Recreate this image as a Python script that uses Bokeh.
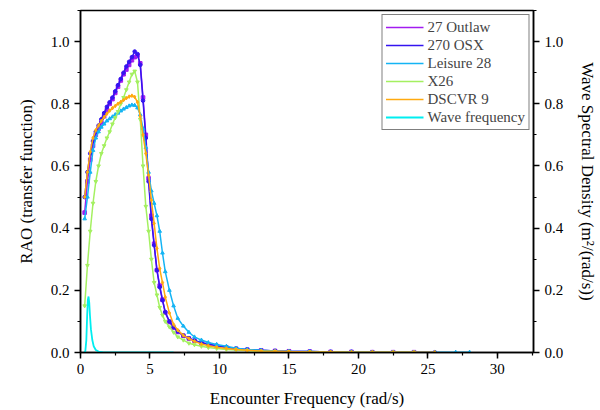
from bokeh.plotting import figure
from bokeh.models import Range1d, LinearAxis, Legend, LegendItem, PrintfTickFormatter
from bokeh.embed import file_html
from bokeh.resources import INLINE

# Encounter frequency grid (rad/s)
freq = [0.3, 0.5, 0.7, 0.9, 1.1, 1.3, 1.5, 1.7, 1.9, 2.1, 2.3, 2.5, 2.7, 2.9, 3.1, 3.3, 3.5, 3.7, 3.9, 4.1,
        4.3, 4.5, 4.7, 4.9, 5.1, 5.3, 5.5, 5.7, 5.9, 6.1, 6.4, 6.7, 7.0, 7.4, 7.8, 8.2, 8.7, 9.2, 9.8, 10.5,
        11.2, 12.0, 13.0, 14.0, 15.0, 16.5, 18.0, 19.5, 21.0, 22.5, 24.0, 25.5, 27.0, 28.0]

rao_outlaw = [0.45, 0.55, 0.62, 0.665, 0.70, 0.72, 0.74, 0.76, 0.78, 0.80, 0.815, 0.835, 0.855, 0.875, 0.895,
              0.91, 0.925, 0.94, 0.95, 0.955, 0.93, 0.82, 0.70, 0.56, 0.44, 0.35, 0.265, 0.215, 0.17, 0.128,
              0.098, 0.08, 0.066, 0.054, 0.045, 0.038, 0.031, 0.026, 0.021, 0.016, 0.012, 0.009, 0.007,
              0.005, 0.004, 0.003, 0.002, 0.002, 0.001, 0.001, 0.001]
rao_osx = [0.50, 0.58, 0.64, 0.68, 0.71, 0.73, 0.75, 0.77, 0.79, 0.805, 0.82, 0.84, 0.86, 0.88, 0.90,
           0.92, 0.935, 0.95, 0.968, 0.96, 0.925, 0.81, 0.69, 0.55, 0.43, 0.345, 0.265, 0.21, 0.168, 0.13,
           0.10, 0.082, 0.068, 0.055, 0.046, 0.039, 0.032, 0.027, 0.022, 0.017, 0.013, 0.010, 0.007,
           0.005, 0.004, 0.003, 0.002, 0.002, 0.001, 0.001, 0.001, 0.001]
rao_leisure = [0.43, 0.50, 0.58, 0.65, 0.69, 0.71, 0.725, 0.735, 0.745, 0.752, 0.758, 0.765, 0.77, 0.777,
               0.783, 0.788, 0.793, 0.796, 0.795, 0.787, 0.765, 0.72, 0.66, 0.58, 0.52, 0.48, 0.44, 0.39,
               0.32, 0.26, 0.20, 0.15, 0.11, 0.085, 0.065, 0.05, 0.04, 0.032, 0.026, 0.02, 0.014, 0.010,
               0.007, 0.005, 0.004, 0.003, 0.002, 0.002, 0.001, 0.001, 0.001, 0.001, 0.001, 0.001]
rao_x26 = [0.15, 0.28, 0.39, 0.48, 0.55, 0.60, 0.64, 0.665, 0.69, 0.71, 0.735, 0.755, 0.775, 0.80, 0.82,
           0.845, 0.87, 0.895, 0.905, 0.87, 0.75, 0.60, 0.47, 0.39, 0.30, 0.225, 0.185, 0.145, 0.12, 0.10,
           0.082, 0.065, 0.05, 0.04, 0.03, 0.025, 0.02, 0.016, 0.013, 0.010, 0.008, 0.006, 0.004, 0.003,
           0.002, 0.002, 0.001, 0.001, 0.001, 0.001, 0.001]
rao_dscvr = [0.50, 0.58, 0.645, 0.69, 0.715, 0.73, 0.745, 0.757, 0.768, 0.778, 0.786, 0.793, 0.80, 0.806,
             0.812, 0.818, 0.823, 0.826, 0.822, 0.805, 0.76, 0.70, 0.64, 0.57, 0.49, 0.415, 0.335, 0.27,
             0.225, 0.178, 0.127, 0.09, 0.072, 0.055, 0.045, 0.036, 0.027, 0.022, 0.017, 0.013, 0.010,
             0.007, 0.005, 0.004, 0.003, 0.002, 0.002, 0.001, 0.001, 0.001, 0.001, 0.001]

wave_freq = [0.28, 0.35, 0.42, 0.48, 0.53, 0.58, 0.63, 0.68, 0.75, 0.85, 0.95, 1.1, 1.3, 1.6, 2.0, 3.0,
             4.0, 5.0, 6.0, 6.7]
wave_psd = [0.0, 0.005, 0.04, 0.12, 0.17, 0.18, 0.16, 0.12, 0.075, 0.04, 0.02, 0.008, 0.003, 0.001, 0.0,
            0.0, 0.0, 0.0, 0.0, 0.0]

names = ["27 Outlaw", "270 OSX", "Leisure 28", "X26", "DSCVR 9"]
series = [rao_outlaw, rao_osx, rao_leisure, rao_x26, rao_dscvr]
colors = ["#a21cf0", "#3414f0", "#14b4f4", "#a4f060", "#ffaa10"]
markers = ["square", "circle", "triangle", "inverted_triangle", "diamond"]

FONT = "'Liberation Serif', 'Times New Roman', serif"

p = figure(width=600, height=410, output_backend="svg", toolbar_location=None,
           x_range=Range1d(0, 32.6), y_range=Range1d(0, 1.1),
           min_border_left=80, min_border_right=67, min_border_top=10, min_border_bottom=55)
p.extra_y_ranges = {"psd": Range1d(0, 1.1)}
p.xgrid.visible = False
p.ygrid.visible = False
p.outline_line_color = "black"
p.outline_line_width = 1.5
p.background_fill_color = "white"
p.border_fill_color = "white"

items = []
for name, ys, c, m in zip(names, series, colors, markers):
    xs = freq[:len(ys)]
    r1 = p.line(xs, ys, line_color=c, line_width=1.5)
    p.scatter(xs, ys, marker=m, size=3.6, fill_color=c, line_color=c)
    items.append(LegendItem(label=name, renderers=[r1]))

rw = p.line(wave_freq, wave_psd, line_color="#00eef0", line_width=1.8, y_range_name="psd")
items.append(LegendItem(label="Wave frequency", renderers=[rw]))

right_axis = LinearAxis(y_range_name="psd", axis_label="Wave Spectral Density (m\u00b2/(rad/s))")
p.add_layout(right_axis, "right")

p.xaxis.axis_label = "Encounter Frequency (rad/s)"
p.yaxis[0].axis_label = "RAO (transfer function)"
p.yaxis[0].formatter = PrintfTickFormatter(format="%.1f")
right_axis.formatter = PrintfTickFormatter(format="%.1f")

for ax in [p.xaxis[0], p.yaxis[0], right_axis]:
    ax.axis_line_width = 1.5
    ax.major_tick_line_width = 1.5
    ax.minor_tick_line_width = 1.2
    ax.major_tick_out = 6
    ax.major_tick_in = 0
    ax.minor_tick_out = 3
    ax.minor_tick_in = 0
    ax.major_label_text_font = FONT
    ax.major_label_text_font_size = "15px"
    ax.major_label_text_color = "black"
    ax.axis_label_text_font = FONT
    ax.axis_label_text_font_size = "17px"
    ax.axis_label_text_font_style = "normal"
    ax.axis_label_text_color = "black"

p.xaxis[0].ticker.desired_num_ticks = 7
p.xaxis[0].ticker.num_minor_ticks = 2
p.yaxis[0].ticker.num_minor_ticks = 2
right_axis.ticker.num_minor_ticks = 2
p.xaxis[0].axis_label_standoff = 12
p.yaxis[0].axis_label_standoff = 12
right_axis.axis_label_standoff = 12

legend = Legend(items=items, location="top_right", margin=4, padding=3, spacing=0,
                glyph_width=38, glyph_height=18, label_standoff=4,
                label_text_font=FONT, label_text_font_size="15px",
                border_line_color="black", border_line_width=1.2,
                background_fill_alpha=1.0)
p.add_layout(legend)

open("out.html", "w").write(file_html(p, INLINE))
